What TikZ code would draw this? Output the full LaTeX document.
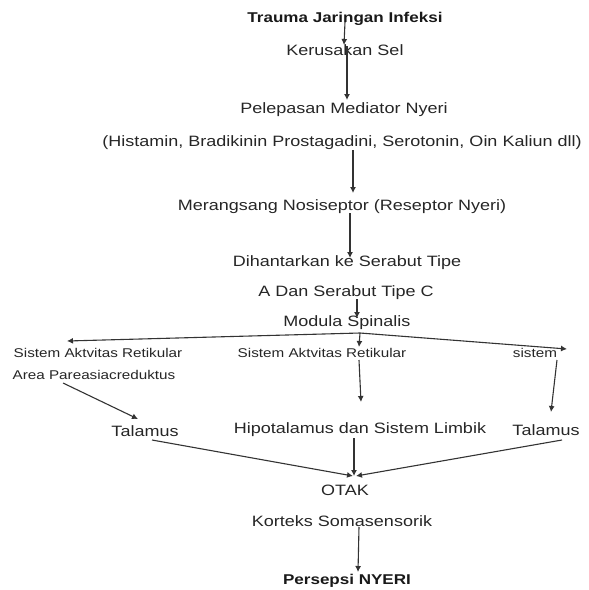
\documentclass[tikz,border=0pt]{standalone}
\usepackage{fontspec}
\setmainfont{Liberation Sans}[FakeStretch=1.2]
\usetikzlibrary{arrows.meta}

\begin{document}
\begin{tikzpicture}[
    x=1pt, y=-1pt,
    txt/.style={inner sep=0pt, align=center, font=\fontsize{15}{17}\selectfont, text=black!85},
    smalltxt/.style={inner sep=0pt, align=center, font=\fontsize{12.7}{14}\selectfont, text=black!85},
    titletxt/.style={inner sep=0pt, align=center, font=\fontsize{14.2}{16}\selectfont\bfseries, text=black!90},
    arrow/.style={-{Latex[length=6pt, width=6pt]}, line width=1.1pt, draw=black!80}
]
\useasboundingbox (0,0) rectangle (589,590);

% 1. Main chain
\node[titletxt] (trauma) at (345,19) {Trauma Jaringan Infeksi};
\node[txt] (kerusakan) at (345,50) {Kerusakan Sel};
\node[txt] (pelepasan) at (344,110) {Pelepasan Mediator Nyeri};
\node[txt] (histamin) at (342,143) {(Histamin, Bradikinin Prostagadini, Serotonin, Oin Kaliun dll)};
\node[txt] (merangsang) at (342,207) {Merangsang Nosiseptor (Reseptor Nyeri)};
\node[txt] (dihantarkan) at (347,263) {Dihantarkan ke Serabut Tipe};
\node[txt] (adan) at (346,293) {A Dan Serabut Tipe C};
\node[txt] (modula) at (347,323) {Modula Spinalis};

% 2. Branch row
\node[smalltxt] (sisL) at (98,353) {Sistem Aktvitas Retikular};
\node[smalltxt] (sisM) at (322,353) {Sistem Aktvitas Retikular};
\node[smalltxt] (sistem) at (535,353) {sistem};
\node[smalltxt] (area) at (94,375) {Area Pareasiacreduktus};

% 3. Thalamus level
\node[txt] (talL) at (145,431) {Talamus};
\node[txt] (hipo) at (360,430) {Hipotalamus dan Sistem Limbik};
\node[txt] (talR) at (546,430) {Talamus};

% 4. Brain and output
\node[txt] (otak) at (345,490) {OTAK};
\node[txt] (korteks) at (342,521) {Korteks Somasensorik};
\node[titletxt] (persepsi) at (347,581) {Persepsi NYERI};

% 5. Connections (main chain)
\draw[arrow] ([shift={(0,3)}]trauma.center) -- ([shift={(-1,-5)}]kerusakan.center);
\draw[arrow] ([shift={(2,-4)}]kerusakan.center) -- ([shift={(3,-10)}]pelepasan.center);
\draw[arrow] ([shift={(11,7)}]histamin.center) -- ([shift={(11,-14)}]merangsang.center);
\draw[arrow] ([shift={(8,6)}]merangsang.center) -- ([shift={(3,-5)}]dihantarkan.center);
\draw[arrow] ([shift={(11,6)}]adan.center) -- ([shift={(10,-5)}]modula.center);

% Modula Spinalis splits three ways
\draw[arrow] ([shift={(13,10)}]modula.center) -- ([shift={(-31,-12)}]sisL.center);
\draw[arrow] ([shift={(13,10)}]modula.center) -- ([shift={(37,-6)}]sisM.center);
\draw[arrow] ([shift={(13,10)}]modula.center) -- ([shift={(32,-4)}]sistem.center);

% 6. Connections to thalamus level
\draw[arrow] ([shift={(37,7)}]sisM.center) -- ([shift={(1,-28)}]hipo.center);
\draw[arrow] ([shift={(22,7)}]sistem.center) -- ([shift={(5,-18)}]talR.center);
\draw[arrow] ([shift={(-31,8)}]area.center) -- ([shift={(-7,-12)}]talL.center);

% 7. Into the brain
\draw[arrow] ([shift={(7,9)}]talL.center) -- ([shift={(8,-14)}]otak.center);
\draw[arrow] ([shift={(-6,8)}]hipo.center) -- ([shift={(9,-14)}]otak.center);
\draw[arrow] ([shift={(16,10)}]talR.center) -- ([shift={(11,-14)}]otak.center);
\draw[arrow] ([shift={(17,6)}]korteks.center) -- ([shift={(11,-9)}]persepsi.center);

\end{tikzpicture}
\end{document}
